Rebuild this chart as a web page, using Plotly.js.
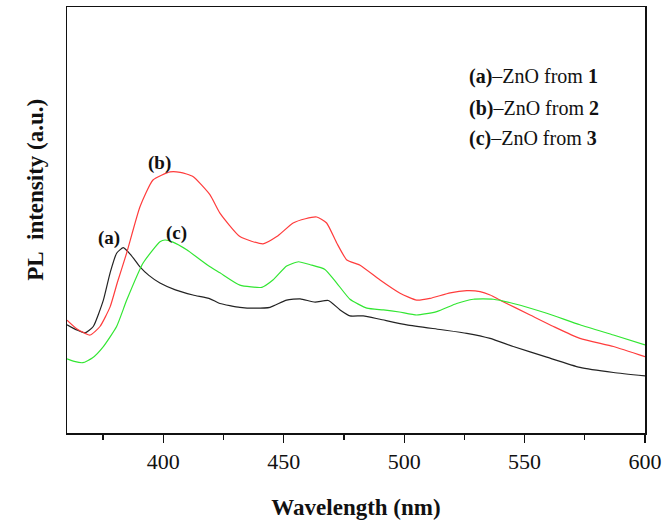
<!DOCTYPE html>
<html>
<head>
<meta charset="utf-8">
<script src="https://cdn.plot.ly/plotly-3.0.1.min.js"></script>
<style>html,body{margin:0;padding:0;background:#fff;}#chart{width:667px;height:528px;}</style>
</head>
<body>
<div id="chart"></div>
<script>
// Sample (a) - ZnO from 1
const wavelengthA = [360, 364, 367.5, 370.9, 375.1, 377.9, 380.6, 383.4, 386.5, 390.3, 394, 398.6, 405, 412.3, 419.4, 423.5, 431.8, 438, 444.3, 451.2, 456.8, 463, 468.5, 473.4, 477.5, 483, 490, 501.1, 514.9, 526, 535.7, 545.3, 559.2, 573, 586.9, 600];
const intensityA  = [25.4, 24.2, 23.5, 25.0, 31.2, 37.6, 42.2, 43.5, 41.8, 39.0, 37.0, 35.2, 33.6, 32.4, 31.5, 30.4, 29.5, 29.3, 29.5, 31.2, 31.5, 30.7, 31.1, 28.9, 27.5, 27.5, 26.7, 25.4, 24.3, 23.4, 22.2, 20.3, 17.8, 15.4, 14.2, 13.4];

// Sample (b) - ZnO from 2
const wavelengthB = [360, 364, 369.6, 373.7, 377.9, 381, 384.8, 390.3, 395.7, 402.8, 407, 412.3, 419.4, 423.5, 431.8, 441.4, 447.1, 453.9, 459, 463.7, 467.8, 472, 476.2, 481.7, 490, 498.3, 505.2, 510.7, 519.1, 526, 531.5, 535.7, 539.8, 552.3, 562, 573, 586.9, 600];
const intensityB  = [26.5, 24.5, 23.0, 25.0, 29.6, 35.5, 42.3, 53.1, 59.4, 61.3, 61.2, 60.2, 55.9, 51.6, 46.1, 44.4, 46.1, 49.3, 50.3, 50.7, 49.3, 44.6, 40.6, 39.4, 35.9, 32.8, 31.2, 31.6, 32.9, 33.4, 33.2, 32.4, 31.2, 27.7, 25.0, 22.2, 20.3, 17.9];

// Sample (c) - ZnO from 3
const wavelengthC = [360, 363, 366.6, 370.5, 375.1, 380.6, 384.8, 391.6, 398.6, 400.7, 404, 409.7, 419.4, 423.5, 431.8, 440.9, 445.5, 451.2, 456.1, 461, 467.1, 472, 477.5, 484.5, 491.4, 498, 505.2, 513.5, 521.8, 528.7, 537, 545.3, 559.2, 573, 586.9, 600];
const intensityC  = [17.4, 16.8, 16.5, 17.6, 20.3, 25.0, 31.2, 39.9, 44.9, 45.3, 44.8, 43.0, 39.0, 37.6, 34.7, 34.2, 35.9, 39.2, 40.2, 39.5, 38.4, 35.2, 31.4, 29.3, 28.9, 28.4, 27.7, 28.5, 30.4, 31.4, 31.4, 30.4, 28.1, 25.4, 23.0, 20.7];

const curveLabels = ["(a)", "(b)", "(c)"];
const legendLines = ["<b>(a)</b>\u2013ZnO from <b>1</b>", "<b>(b)</b>\u2013ZnO from <b>2</b>", "<b>(c)</b>\u2013ZnO from <b>3</b>"];
const xTitle = "Wavelength (nm)";
const yTitle = "PL\u00a0 intensity (a.u.)";

const serif = "'Liberation Serif', 'Times New Roman', Times, serif";

const traces = [
  {x: wavelengthA, y: intensityA, mode: "lines", line: {color: "rgb(35,35,35)", width: 1.2, shape: "spline", smoothing: 0.5}, showlegend: false},
  {x: wavelengthB, y: intensityB, mode: "lines", line: {color: "rgb(255,60,60)", width: 1.2, shape: "spline", smoothing: 0.5}, showlegend: false},
  {x: wavelengthC, y: intensityC, mode: "lines", line: {color: "rgb(50,230,50)", width: 1.2, shape: "spline", smoothing: 0.5}, showlegend: false}
];

const labelPos = [[377.6, 45.7], [398.2, 63.3], [405.3, 46.9]];
const annotations = [];
curveLabels.forEach((t, i) => {
  annotations.push({x: labelPos[i][0], y: labelPos[i][1], xref: "x", yref: "y", text: "<b>" + t + "</b>", showarrow: false, font: {family: serif, size: 19, color: "#111"}});
});
const legendY = [0.836, 0.762, 0.692];
legendLines.forEach((t, i) => {
  annotations.push({x: 0.6925, y: legendY[i], xref: "paper", yref: "paper", xanchor: "left", yanchor: "middle", text: t, showarrow: false, font: {family: serif, size: 20, color: "#111"}});
});
annotations.push({x: -0.081, y: 0.57, xref: "paper", yref: "paper", text: "<b>" + yTitle + "</b>", textangle: -90, showarrow: false, font: {family: serif, size: 23, color: "#111"}});

const layout = {
  width: 667, height: 528,
  margin: {l: 67, r: 22, t: 7, b: 95},
  paper_bgcolor: "#fff", plot_bgcolor: "#fff",
  xaxis: {
    range: [360, 600], dtick: 50, tick0: 400, ticks: "outside", ticklen: 8, tickwidth: 1.3, tickcolor: "#111",
    minor: {dtick: 25, tick0: 375, ticks: "outside", ticklen: 5, tickwidth: 1.3, tickcolor: "#111", showgrid: false},
    showgrid: false, zeroline: false, showline: true, mirror: true, linecolor: "#111", linewidth: 1.5,
    tickfont: {family: serif, size: 22, color: "#111"},
    title: {text: "<b>" + xTitle + "</b>", font: {family: serif, size: 23, color: "#111"}, standoff: 26}
  },
  yaxis: {
    range: [0, 100], showticklabels: false, ticks: "", showgrid: false, zeroline: false,
    showline: true, mirror: true, linecolor: "#111", linewidth: 1.5
  },
  annotations: annotations
};

Plotly.newPlot("chart", traces, layout, {displayModeBar: false, staticPlot: true});
</script>
</body>
</html>
